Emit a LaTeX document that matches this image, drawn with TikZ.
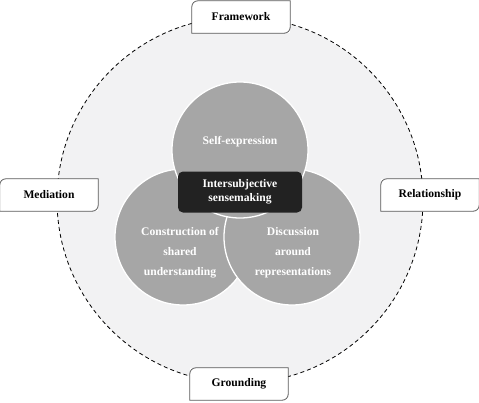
\documentclass[tikz,border=0pt]{standalone}
\usepackage{fontspec}
\setmainfont{Liberation Serif}
\usepackage{tikz}
\usetikzlibrary{positioning, calc}
\usepackage{xcolor}
\definecolor{mygray}{RGB}{166, 166, 166}
\definecolor{mylight}{RGB}{242, 242, 243}
\definecolor{mydark}{RGB}{34, 34, 34}
\definecolor{myedge}{RGB}{90, 90, 90}

% obramowanie: zaokraglone tylko dwa przeciwne rogi
\newcommand{\diagframe}[1]{%
  \draw[myedge, line width=0.8pt] (#1.south west)
    -- ($(#1.north west)+(0,-6pt)$) arc[start angle=180, end angle=90, radius=6pt]
    -- (#1.north east)
    -- ($(#1.south east)+(0,6pt)$) arc[start angle=0, end angle=-90, radius=6pt]
    -- cycle;}

\begin{document}
\begin{tikzpicture}[x=1pt, y=-1pt,
    every node/.style={font=\fontsize{11.6}{14}\selectfont\bfseries},
    sidebox/.style={fill=white, minimum width=98pt, minimum height=32pt, inner sep=0pt},
    petal/.style={circle, draw=white, line width=1.3pt, fill=mygray, minimum size=136pt, inner sep=0pt},
    petaltext/.style={text=white, align=center, font=\fontsize{11.6}{20}\selectfont\bfseries}]
                \useasboundingbox (0,0) rectangle (479,402);

                % --- Duze kolo w tle ---
                \node[circle, draw, dashed, dash pattern=on 4pt off 3pt, line width=0.8pt, fill=mylight, minimum size=366pt, inner sep=0pt] (outer) at (240,200) {};

                % --- Trzy kola ---
                \node[petal] (shared) at (183,237) {};
                \node[petal] (discuss) at (292,237) {};
                \node[petal] (self) at (240,150) {};

                \node[petaltext] (selftxt) at ($(self)+(0,-8)$) {Self-expression};
                \node[petaltext] (sharedtxt) at ($(shared)+(-3,16)$) {Construction of\\shared\\understanding};
                \node[petaltext] (discusstxt) at ($(discuss)+(1,16)$) {Discussion\\around\\representations};

                % --- Srodek ---
                \node[fill=mydark, rounded corners=5pt, text=white, align=center, minimum width=124pt, minimum height=41pt, inner sep=0pt] (core) at (240,192) {Intersubjective\\sensemaking};

                % --- Cztery ramki ---
                \node[sidebox] (frame) at (241,17) {Framework};
                \node[sidebox] (mediation) at (49,195) {Mediation};
                \node[sidebox] (relation) at (430,195) {Relationship};
                \node[sidebox] (ground) at (239,384) {Grounding};

                \diagframe{frame}
                \diagframe{mediation}
                \diagframe{relation}
                \diagframe{ground}
            \end{tikzpicture}
\end{document}
